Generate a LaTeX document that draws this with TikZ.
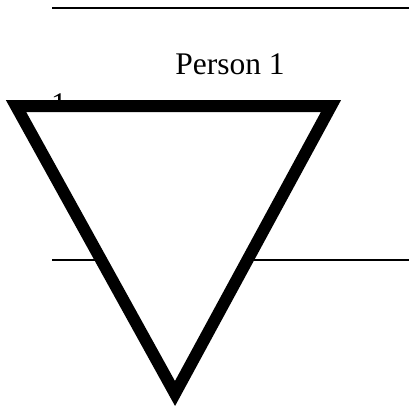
\documentclass[tikz,border=0pt]{standalone}
\usepackage{fontspec}
\setmainfont{Liberation Serif}
\tikzset{bigtext/.style={font=\fontsize{31.5}{36}\selectfont,inner sep=0pt}}
\begin{document}
\begin{tikzpicture}[x=1pt,y=-1pt]
\useasboundingbox (0,0) rectangle (409,408);
\coordinate (t1) at (52,8);
\coordinate (t2) at (409,8);
\coordinate (b1) at (52,260);
\coordinate (b2) at (409,260);
\draw[line width=2pt] (t1)--(t2);
\draw[line width=1.3pt] (b1)--(b2);
\node[bigtext,anchor=base] (name) at (230,74) {Person 1};
\node[bigtext,anchor=base] (num) at (59,114) {1};
\coordinate (A) at (16,106);
\coordinate (B) at (331,106);
\coordinate (C) at (175,393.5);
\draw[line width=12pt,fill=white,line join=miter] (A)--(B)--(C)--cycle;
\end{tikzpicture}
\end{document}
